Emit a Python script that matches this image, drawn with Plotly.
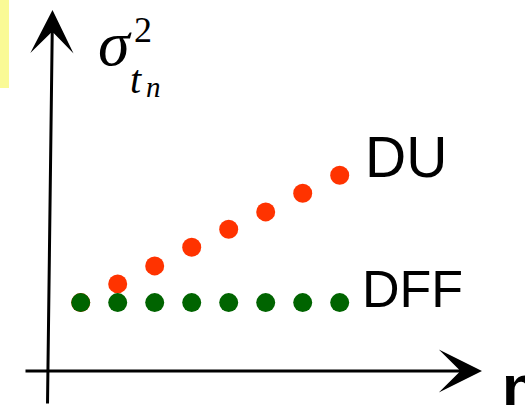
import plotly.graph_objects as go

# Step index along the horizontal axis
n_steps = [1, 2, 3, 4, 5, 6, 7, 8]
# Variance of t_n for the two schemes
du_var = [1.0, 1.52, 2.02, 2.54, 3.04, 3.52, 4.04, 4.54]
dff_var = [1.0, 1.0, 1.0, 1.0, 1.0, 1.0, 1.0, 1.0]
series_names = ["DU", "DFF"]

W, H = 525, 405
RED = "#FF3300"
GREEN = "#006400"


def px(x):
    return x / W


def py(y):
    return 1 - y / H


fig = go.Figure()
fig.add_trace(go.Scatter(x=n_steps, y=du_var, mode="markers", name=series_names[0],
                         marker=dict(color=RED, size=19, line=dict(width=0))))
fig.add_trace(go.Scatter(x=n_steps, y=dff_var, mode="markers", name=series_names[1],
                         marker=dict(color=GREEN, size=19, line=dict(width=0))))

annotations = []
# axis arrows
annotations.append(dict(xref="paper", yref="paper", x=px(482), y=py(371), ax=-458, ay=0,
                        text="", showarrow=True, arrowhead=3, arrowwidth=3, arrowsize=2.4,
                        arrowcolor="black"))
annotations.append(dict(xref="paper", yref="paper", x=px(52.5), y=py(10), ax=-5, ay=400,
                        text="", showarrow=True, arrowhead=3, arrowwidth=3, arrowsize=2.4,
                        arrowcolor="black"))

serif = "Times New Roman, Liberation Serif, serif"
sans = "Arial, Liberation Sans, sans-serif"


def label(text, x, yc, size, family, anchor="left"):
    annotations.append(dict(xref="paper", yref="paper", x=px(x), y=py(yc), text=text,
                            showarrow=False, xanchor=anchor, yanchor="middle",
                            font=dict(family=family, size=size, color="black")))


# sigma^2_{t_n}
label("<i>σ</i>", 96, 44, 64, serif)
label("2", 132, 30, 36, serif)
label("<i>t</i>", 128, 79, 40, serif)
label("<i>n</i>", 144, 87, 29, serif)

# series labels and horizontal axis name
label(series_names[0], 363, 157, 57, sans)
label(series_names[1], 360, 289, 52, sans)
label("<b>n</b>", 500, 386, 60, sans)

fig.update_layout(
    width=W, height=H,
    margin=dict(l=0, r=0, t=0, b=0),
    paper_bgcolor="white", plot_bgcolor="white",
    showlegend=False,
    xaxis=dict(visible=False, range=[-43.7 / 37, (W - 43.7) / 37], fixedrange=True),
    yaxis=dict(visible=False, range=[(338.6 - H) / 36, 338.6 / 36], fixedrange=True),
    shapes=[dict(type="rect", xref="paper", yref="paper", x0=-0.01, x1=px(9),
                 y0=py(88), y1=1.01, fillcolor="#FAFA96", line=dict(width=0), layer="below")],
    annotations=annotations,
)

fig.write_html("out.html")
